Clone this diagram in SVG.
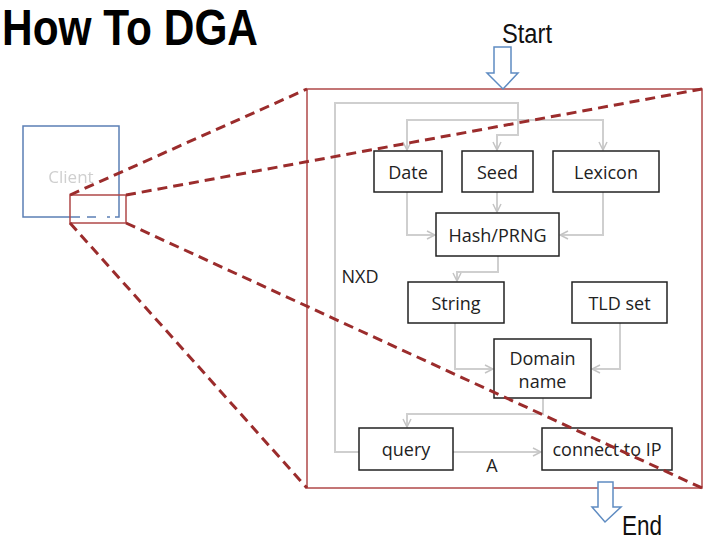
<svg xmlns="http://www.w3.org/2000/svg" width="705" height="541" viewBox="0 0 705 541">
  <style>
    .title { font-family: "Liberation Sans", Arial, sans-serif; font-weight: bold; font-size: 50px; fill: #000; }
    .flow { font-family: "Liberation Sans", Arial, sans-serif; font-size: 27px; fill: #111; }
    .box { fill: #fff; stroke: #222; stroke-width: 1.5; }
    .lbl { font-family: "Open Sans", "Liberation Sans", sans-serif; font-size: 18px; fill: #222; text-anchor: middle; }
    .edge { fill: none; stroke: #cfcfcf; stroke-width: 2; }
    .zoom { fill: none; stroke: #9b2c2c; stroke-width: 3; stroke-dasharray: 10 6; }
    .frame { fill: none; stroke: #b04848; stroke-width: 1.5; }
    .hollow { fill: #fff; stroke: #5f8cc2; stroke-width: 1.5; }
  </style>
  <defs>
    <marker id="chev" viewBox="0 0 10 10" refX="9" refY="5" markerWidth="10" markerHeight="10" markerUnits="userSpaceOnUse" orient="auto-start-reverse">
      <path d="M1,1 L9,5 L1,9" fill="none" stroke="#c4c4c4" stroke-width="1.5"/>
    </marker>
    <filter id="soft" x="-20%" y="-20%" width="140%" height="140%">
      <feGaussianBlur stdDeviation="0.7"/>
    </filter>
  </defs>

  <rect width="705" height="541" fill="#fff"/>

  <!-- heading -->
  <text class="title" x="2" y="45" textLength="256" lengthAdjust="spacingAndGlyphs">How To DGA</text>

  <!-- client host with highlighted region -->
  <g id="client">
    <rect x="23" y="126" width="96" height="91" fill="#fff" stroke="#5b7fb5" stroke-width="1.5"/>
    <text x="71" y="183" font-family="Open Sans, Liberation Sans, sans-serif" font-size="17" fill="#cfcfcf" text-anchor="middle" filter="url(#soft)">Client</text>
    <g fill="#fff">
      <rect x="80" y="215" width="7" height="4"/>
      <rect x="96" y="215" width="11" height="4"/>
      <rect x="110" y="215" width="5" height="4"/>
    </g>
  </g>
  <g id="focus">
    <rect class="frame" x="70" y="195" width="56" height="28"/>
  </g>

  <!-- magnified frame -->
  <g id="frame">
    <rect class="frame" x="307" y="89" width="395" height="399"/>
  </g>

  <!-- zoom guides -->
  <g id="guides">
    <line class="zoom" x1="70" y1="195" x2="307" y2="89"/>
    <line class="zoom" x1="70" y1="223" x2="307" y2="488"/>
  </g>

  <!-- start / end -->
  <g id="start">
    <text class="flow" x="502" y="43" textLength="50" lengthAdjust="spacingAndGlyphs">Start</text>
    <path class="hollow" d="M494,47 H511 V73 H518 L503,89 L487,73 H494 Z"/>
  </g>
  <g id="end">
    <path class="hollow" d="M598,482 H613 V507 H621 L605,522 L592,507 H598 Z"/>
    <text class="flow" x="622" y="535" font-size="26" textLength="40" lengthAdjust="spacingAndGlyphs">End</text>
  </g>

  <!-- connectors -->
  <g id="connectors">
    <path class="edge" d="M359,452 H335 V103 H518 V135 H497 V150" marker-end="url(#chev)"/>
    <path class="edge" d="M407,150 V120 H603 V150" marker-start="url(#chev)" marker-end="url(#chev)"/>
    <path class="edge" d="M407,192 V235 H435" marker-end="url(#chev)"/>
    <path class="edge" d="M497,192 V212" marker-end="url(#chev)"/>
    <path class="edge" d="M603,192 V235 H560" marker-end="url(#chev)"/>
    <path class="edge" d="M498,256 V272 H457 V281" marker-end="url(#chev)"/>
    <path class="edge" d="M455,323 V369 H493" marker-end="url(#chev)"/>
    <path class="edge" d="M620,323 V369 H592" marker-end="url(#chev)"/>
    <path class="edge" d="M543,398 V414 H407 V427" marker-end="url(#chev)"/>
    <path class="edge" d="M453,452 H541" marker-end="url(#chev)"/>
    <text class="lbl" x="360" y="283">NXD</text>
    <text class="lbl" x="492" y="472">A</text>
  </g>

  <!-- nodes -->
  <g id="date">
    <rect class="box" x="374" y="151" width="68" height="41"/>
    <text class="lbl" x="408" y="179">Date</text>
  </g>
  <g id="seed">
    <rect class="box" x="462" y="151" width="71" height="41"/>
    <text class="lbl" x="497.5" y="179">Seed</text>
  </g>
  <g id="lexicon">
    <rect class="box" x="553" y="151" width="106" height="41"/>
    <text class="lbl" x="606" y="179">Lexicon</text>
  </g>
  <g id="hash">
    <rect class="box" x="436" y="213" width="123" height="43"/>
    <text class="lbl" x="497.5" y="242">Hash/PRNG</text>
  </g>
  <g id="string">
    <rect class="box" x="408" y="282" width="96" height="41"/>
    <text class="lbl" x="456" y="310">String</text>
  </g>
  <g id="tld">
    <rect class="box" x="572" y="282" width="95" height="41"/>
    <text class="lbl" x="619.5" y="310">TLD set</text>
  </g>
  <g id="domain">
    <rect class="box" x="494" y="339" width="97" height="59"/>
    <text class="lbl" x="542.5" y="365">Domain</text>
    <text class="lbl" x="542.5" y="388">name</text>
  </g>
  <g id="query">
    <rect class="box" x="359" y="428" width="94" height="42"/>
    <text class="lbl" x="406" y="456">query</text>
  </g>
  <g id="connect">
    <rect class="box" x="542" y="428" width="130" height="42"/>
    <text class="lbl" x="607" y="456">connect to IP</text>
  </g>

  <!-- right-hand guides run over the magnified boxes -->
  <g id="guides-over">
    <line class="zoom" x1="126" y1="223" x2="702" y2="488"/>
    <line class="zoom" x1="126" y1="195" x2="702" y2="89"/>
  </g>
</svg>
